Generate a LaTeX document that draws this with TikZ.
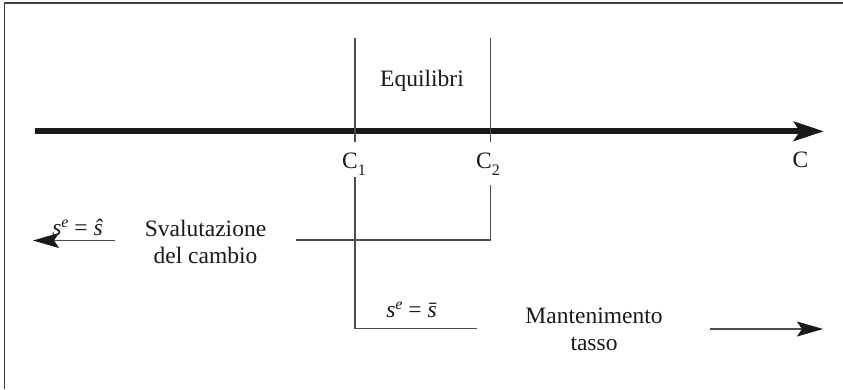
\documentclass[tikz,border=0pt]{standalone}
\usepackage{fontspec}
\setmainfont{Liberation Serif}
\usetikzlibrary{arrows.meta}
\newcommand{\lowsub}[1]{\raisebox{-0.3em}{\fontsize{16}{16}\selectfont #1}}
\begin{document}
\begin{tikzpicture}[x=1pt,y=-1pt,
  lbl/.style={inner sep=0pt, font=\fontsize{23.5}{27}\selectfont, text=black!90},
  thinln/.style={line width=1.1pt, draw=black!70},
  smallhead/.style={-{Stealth[length=26pt,width=15pt,inset=5pt,fill=black!90,color=black!90]}}]
\useasboundingbox (0,0) rectangle (843,389);
% frame
\draw[line width=1.6pt, black!75] (4.5,389) -- (4.5,3) -- (843,3);
% main axis
\coordinate (axL) at (35,131.3);
\coordinate (axR) at (824,131.3);
\draw[line width=6pt, black!90, -{Stealth[length=30pt,width=19pt,inset=6pt]}] (axL) -- (axR);
% vertical lines above axis
\coordinate (c1t) at (355,38);
\coordinate (c1m) at (355,141.5);
\coordinate (c2t) at (490.5,38);
\coordinate (c2m) at (490.5,141.5);
\draw[thinln] (c1t) -- (c1m);
\draw[thinln] (c2t) -- (c2m);
% lower lines
\coordinate (c1b) at (355,177);
\coordinate (c1c) at (355,328.5);
\coordinate (c1e) at (477,328.5);
\coordinate (c2b) at (490.5,185);
\coordinate (c2c) at (490.5,240);
\coordinate (c2e) at (296,240);
\draw[thinln] (c1b) -- (c1c) -- (c1e);
\draw[thinln] (c2b) -- (c2c) -- (c2e);
% side arrows
\coordinate (la1) at (115,240.5);
\coordinate (la2) at (33,240.5);
\coordinate (ra1) at (710,329);
\coordinate (ra2) at (823,329);
\draw[thinln, smallhead] (la1) -- (la2);
\draw[thinln, smallhead] (ra1) -- (ra2);
% labels
\node[lbl, anchor=base] (eq) at (422,86.5) {Equilibri};
\node[lbl, anchor=base] (C1) at (354,168) {C\lowsub{1}};
\node[lbl, anchor=base] (C2) at (488,168) {C\lowsub{2}};
\node[lbl, anchor=base] (C) at (800.5,167) {C};
\node[lbl, anchor=base] (shat) at (77.5,235.5) {{\itshape s}\raisebox{0.33em}{\fontsize{16}{16}\selectfont\itshape e} = {\itshape\^{s}}};
\node[lbl, anchor=base] (sbar) at (411.5,317) {{\itshape s}\raisebox{0.33em}{\fontsize{16}{16}\selectfont\itshape e} = {\itshape\={s}}};
\node[lbl, align=center] (sval) at (205.5,242) {Svalutazione\\del cambio};
\node[lbl, align=center] (mant) at (594,329) {Mantenimento\\tasso};
\end{tikzpicture}
\end{document}
